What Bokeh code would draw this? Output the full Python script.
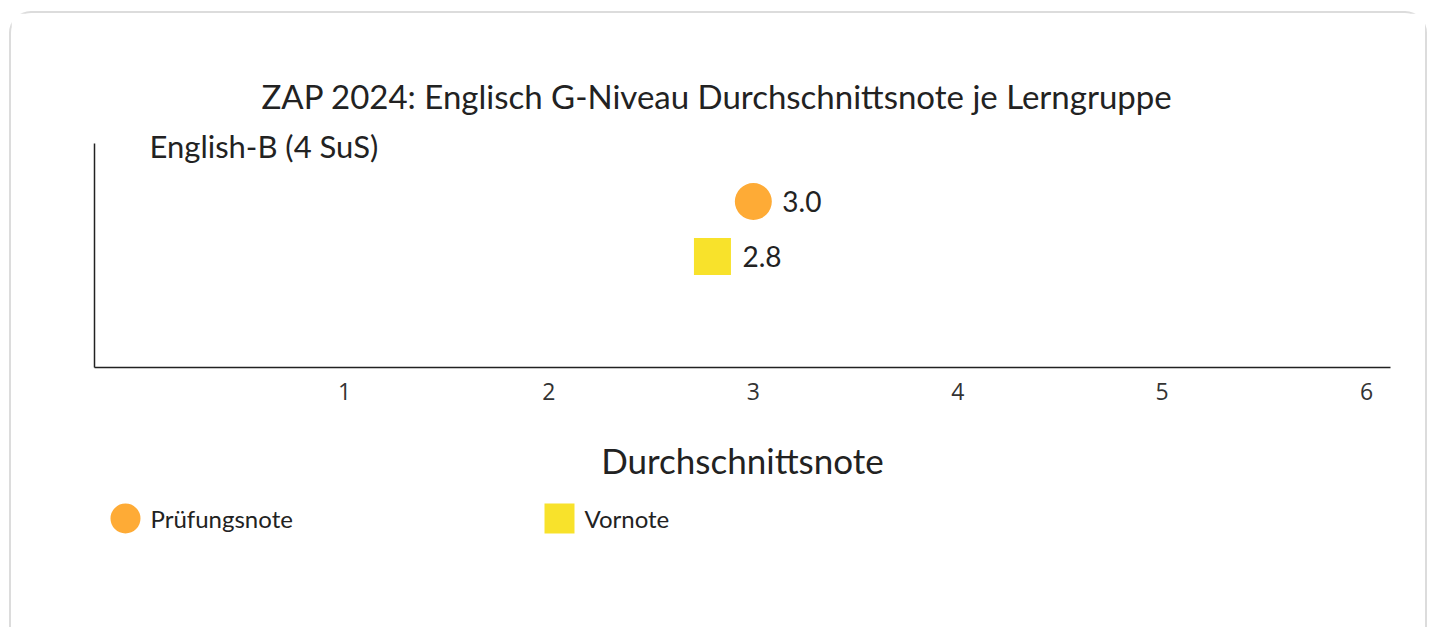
from bokeh.plotting import figure
from bokeh.layouts import column
from bokeh.models import Range1d, FixedTicker, Label, ColumnDataSource
from bokeh.transform import dodge
from bokeh.core.properties import value
from bokeh.embed import file_html
from bokeh.resources import INLINE

# ---- data ----
title_text = "ZAP 2024: Englisch G-Niveau Durchschnittsnote je Lerngruppe"
groups = ["English-B (4 SuS)"]
pruefungsnote = [3.0]
vornote = [2.8]
series_names = ["Prüfungsnote", "Vornote"]
series_markers = ["circle", "square"]
x_ticks = [1, 2, 3, 4, 5, 6]
x_axis_title = "Durchschnittsnote"

FONT = "Lato"
TXT = "#222222"
C_PRUEF = "#FEAB36"
C_VOR = "#F8E22B"
series_colors = [C_PRUEF, C_VOR]
BORDER = "2px solid #dcdcdc"

src = ColumnDataSource(dict(
    group=groups,
    y=list(range(len(groups))),
    pruef=pruefungsnote,
    vor=vornote,
    pruef_lbl=[f"{v:.1f}" for v in pruefungsnote],
    vor_lbl=[f"{v:.1f}" for v in vornote],
))

Y_TOP = 0.3886  # top of the drawn y axis line

# ---------------- main chart ----------------
p = figure(width=1418, height=482, output_backend="svg", toolbar_location=None,
           x_range=Range1d(-0.223, 6.117), y_range=Range1d(-0.6295, 0.4705),
           min_border_left=83, min_border_right=39, min_border_top=112, min_border_bottom=128)
p.styles = {"border-top": BORDER, "border-left": BORDER, "border-right": BORDER,
            "border-top-left-radius": "22px", "border-top-right-radius": "22px"}
p.outline_line_color = None
p.grid.visible = False

p.title.text = title_text
p.title.align = "left"
p.title.offset = 167
p.title.standoff = 20
p.title.text_font = FONT
p.title.text_font_size = "33px"
p.title.text_font_style = "normal"
p.title.text_color = TXT

xa = p.xaxis[0]
xa.ticker = FixedTicker(ticks=x_ticks)
xa.major_tick_line_color = None
xa.minor_tick_line_color = None
xa.major_tick_out = 0
xa.major_label_standoff = 15
xa.major_label_text_font = "Open Sans"
xa.major_label_text_font_size = "23px"
xa.major_label_text_color = "#333333"
xa.axis_line_color = TXT
xa.axis_line_width = 1.5
xa.axis_label = x_axis_title
xa.axis_label_text_font = FONT
xa.axis_label_text_font_size = "35px"
xa.axis_label_text_font_style = "normal"
xa.axis_label_text_color = TXT
xa.axis_label_standoff = 36

ya = p.yaxis[0]
ya.ticker = FixedTicker(ticks=[])
ya.bounds = (p.y_range.start, Y_TOP)
ya.major_tick_line_color = None
ya.minor_tick_line_color = None
ya.major_label_text_font_size = "0px"
ya.axis_line_color = TXT
ya.axis_line_width = 1.5

yp = dodge("y", 0.125, range=p.y_range)
yv = dodge("y", -0.125, range=p.y_range)

p.scatter(x="pruef", y=yp, source=src, marker="circle", size=37,
          fill_color=C_PRUEF, line_color=None)
p.scatter(x="vor", y=yv, source=src, marker="square", size=37,
          fill_color=C_VOR, line_color=None)
p.text(x="pruef", y=yp, text="pruef_lbl", source=src, x_offset=29, text_baseline="middle",
       text_font=value(FONT), text_font_size="28px", text_color=TXT)
p.text(x="vor", y=yv, text="vor_lbl", source=src, x_offset=30, text_baseline="middle",
       text_font=value(FONT), text_font_size="28px", text_color=TXT)

for i, g in enumerate(groups):
    p.add_layout(Label(x=p.x_range.start, y=Y_TOP, x_offset=55, y_offset=-2,
                       text=g, text_baseline="middle", text_font=FONT,
                       text_font_size="31px", text_color=TXT))

# ---------------- legend strip ----------------
leg_src = ColumnDataSource(dict(
    idx=list(range(len(series_names))),
    row=[0] * len(series_names),
    name=series_names,
    marker=series_markers,
    color=series_colors,
))
leg = figure(width=1418, height=134, output_backend="svg", toolbar_location=None,
             x_range=Range1d(-0.0714, 2.9147), y_range=Range1d(-109, 25),
             x_axis_type=None, y_axis_type=None,
             min_border_left=83, min_border_right=39, min_border_top=0, min_border_bottom=0)
leg.styles = {"border-left": BORDER, "border-right": BORDER}
leg.outline_line_color = None
leg.grid.visible = False
leg.scatter(x="idx", y="row", source=leg_src, marker="marker", size=30,
            fill_color="color", line_color=None)
leg.text(x="idx", y="row", text="name", source=leg_src, x_offset=25, text_baseline="middle",
         text_font=value(FONT), text_font_size="24px", text_color=TXT)

layout = column(p, leg, spacing=0)
layout.styles = {"margin-left": "9px", "margin-top": "11px"}

open("out.html", "w").write(file_html(layout, INLINE))
